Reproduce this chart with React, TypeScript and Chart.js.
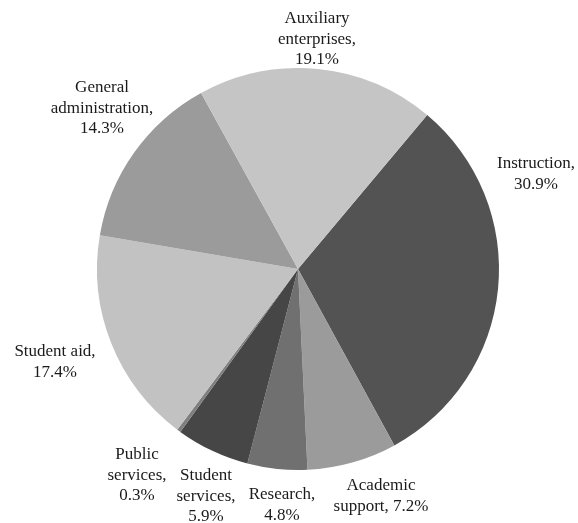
import React, { useEffect, useRef } from "react";
import { Chart, registerables } from "chart.js";

Chart.register(...registerables);

const categories = [
  "Instruction",
  "Academic support",
  "Research",
  "Student services",
  "Public services",
  "Student aid",
  "General administration",
  "Auxiliary enterprises",
];
const shares = [30.9, 7.2, 4.8, 5.9, 0.3, 17.4, 14.3, 19.1];
const labelLines = [
  ["Instruction,", "30.9%"],
  ["Academic", "support, 7.2%"],
  ["Research,", "4.8%"],
  ["Student", "services,", "5.9%"],
  ["Public", "services,", "0.3%"],
  ["Student aid,", "17.4%"],
  ["General", "administration,", "14.3%"],
  ["Auxiliary", "enterprises,", "19.1%"],
];
const colors = ["#535353", "#9b9b9b", "#707070", "#464646", "#7f7f7f", "#c2c2c2", "#9b9b9b", "#c5c5c5"];
// label anchor: x centre and first baseline, relative to pie centre
const labelLayout = [
  [238, -101],
  [83, 221],
  [-16, 230],
  [-92, 211],
  [-161, 190],
  [-243, 87],
  [-196, -177],
  [19, -246],
];

const labelPlugin = {
  id: "outerLabels",
  afterDraw(chart: any) {
    const meta = chart.getDatasetMeta(0);
    const arc = meta.data[0];
    if (!arc) return;
    const cx = arc.x;
    const cy = arc.y;
    const ctx = chart.ctx;
    ctx.save();
    ctx.font = '17px "Liberation Serif", serif';
    ctx.fillStyle = "#1a1a1a";
    ctx.textAlign = "center";
    ctx.textBaseline = "alphabetic";
    labelLines.forEach((lines, i) => {
      const [dx, dy] = labelLayout[i];
      lines.forEach((t, j) => {
        ctx.fillText(t, cx + dx, cy + dy + j * 20.5);
      });
    });
    ctx.restore();
  },
};

export default function App() {
  const ref = useRef<HTMLCanvasElement>(null);
  useEffect(() => {
    document.body.style.margin = "0";
    const chart = new Chart(ref.current!, {
      type: "pie",
      data: {
        labels: categories,
        datasets: [
          {
            data: shares,
            backgroundColor: colors,
            borderWidth: 0,
          },
        ],
      },
      options: {
        responsive: false,
        animation: false,
        rotation: 40,
        layout: { padding: { left: 97, right: 79, top: 68, bottom: 53 } },
        plugins: { legend: { display: false }, tooltip: { enabled: false } },
      },
      plugins: [labelPlugin],
    });
    return () => chart.destroy();
  }, []);
  return <canvas ref={ref} width={578} height={523} style={{ display: "block" }} />;
}
